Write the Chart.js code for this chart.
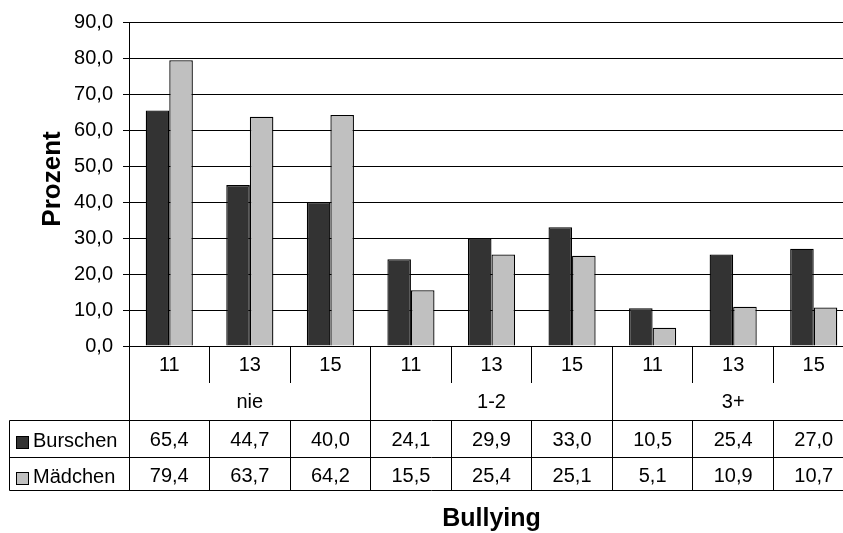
<!DOCTYPE html>
<html>
<head>
<meta charset="utf-8">
<script src="https://cdn.jsdelivr.net/npm/chart.js@4.4.1/dist/chart.umd.min.js"></script>
<style>
  html, body { margin: 0; padding: 0; background: #fff; overflow: hidden; }
  #wrap { width: 843px; height: 533px; overflow: hidden; }
</style>
</head>
<body>
<div id="wrap"><canvas id="bullyChart" width="870" height="533"></canvas></div>
<script>
// Data
const ages = ['11', '13', '15', '11', '13', '15', '11', '13', '15'];
const groups = ['nie', '1-2', '3+'];
const burschen = [65.4, 44.7, 40.0, 24.1, 29.9, 33.0, 10.5, 25.4, 27.0];
const maedchen = [79.4, 63.7, 64.2, 15.5, 25.4, 25.1, 5.1, 10.9, 10.7];
const seriesNames = ['Burschen', 'Mädchen'];
const seriesColors = ['#333333', '#c0c0c0'];
const yMin = 0, yMax = 90, yStep = 10;

const FONT = '"Liberation Sans", Arial, sans-serif';
const fmt = v => Number(v).toFixed(1).replace('.', ',');
const crisp = v => Math.round(v - 0.5) + 0.5;

// Draws the data table under the plot plus both axis titles
const tablePlugin = {
    id: 'dataTable',
    afterDraw(chart) {
        const ctx = chart.ctx;
        const xs = chart.scales.x;
        const area = chart.chartArea;
        const step = xs.getPixelForValue(1) - xs.getPixelForValue(0);
        const edge = i => crisp(xs.getPixelForValue(0) - step / 2 + i * step);
        const top = crisp(area.bottom);
        const rowA = 420.5, rowB = 457.5, rowC = 490.5;
        const tableLeft = 9.5;

        ctx.save();
        ctx.strokeStyle = '#000';
        ctx.lineWidth = 1;
        ctx.beginPath();
        // horizontal lines
        [rowA, rowB, rowC].forEach(y => {
            ctx.moveTo(tableLeft, y);
            ctx.lineTo(edge(ages.length), y);
        });
        // left borders
        ctx.moveTo(tableLeft, rowA);
        ctx.lineTo(tableLeft, rowC);
        ctx.moveTo(edge(0), top);
        ctx.lineTo(edge(0), rowC);
        // column separators
        for (let i = 1; i <= ages.length; i++) {
            const x = edge(i);
            if (i % 3 === 0) {
                ctx.moveTo(x, top);
                ctx.lineTo(x, rowC);
            } else {
                ctx.moveTo(x, top);
                ctx.lineTo(x, 383);
                ctx.moveTo(x, rowA);
                ctx.lineTo(x, rowC);
            }
        }
        ctx.stroke();

        // texts
        ctx.fillStyle = '#000';
        ctx.font = '20px ' + FONT;
        ctx.textAlign = 'center';
        ctx.textBaseline = 'alphabetic';
        ages.forEach((a, i) => {
            const cx = xs.getPixelForValue(i);
            ctx.fillText(a, cx, 371);
            ctx.fillText(fmt(burschen[i]), cx, 446);
            ctx.fillText(fmt(maedchen[i]), cx, 482);
        });
        groups.forEach((g, i) => {
            ctx.fillText(g, xs.getPixelForValue(i * 3 + 1), 408);
        });

        // legend keys in the table
        ctx.textAlign = 'left';
        [446, 482].forEach((base, k) => {
            ctx.fillStyle = seriesColors[k];
            ctx.fillRect(16, base - 10, 13, 13);
            ctx.strokeRect(16.5, base - 9.5, 12, 12);
            ctx.fillStyle = '#000';
            ctx.fillText(seriesNames[k], 33, base + 1);
        });

        // axis titles
        ctx.font = 'bold 25px ' + FONT;
        ctx.textAlign = 'center';
        ctx.fillText('Bullying', (area.left + area.right) / 2, 526);

        ctx.font = 'bold 26px ' + FONT;
        ctx.textBaseline = 'middle';
        ctx.translate(53, 179);
        ctx.rotate(-Math.PI / 2);
        ctx.fillText('Prozent', 0, 0);
        ctx.restore();
    }
};

const ctx = document.getElementById('bullyChart').getContext('2d');
const bullyChart = new Chart(ctx, {
    type: 'bar',
    data: {
        labels: ages,
        datasets: [
            { label: seriesNames[0], data: burschen, backgroundColor: seriesColors[0] },
            { label: seriesNames[1], data: maedchen, backgroundColor: seriesColors[1] }
        ]
    },
    options: {
        responsive: false,
        animation: false,
        layout: { padding: { top: 19, right: 16, bottom: 187, left: 0 } },
        datasets: {
            bar: {
                borderColor: '#000',
                borderWidth: 1.3,
                categoryPercentage: 0.585,
                barPercentage: 1
            }
        },
        plugins: {
            legend: { display: false },
            tooltip: { enabled: false }
        },
        scales: {
            x: { display: false },
            y: {
                min: yMin,
                max: yMax,
                afterFit: scale => { scale.width = 129; },
                ticks: {
                    stepSize: yStep,
                    color: '#000',
                    padding: 10,
                    font: { family: FONT, size: 20 },
                    callback: v => fmt(v)
                },
                grid: { color: '#000', tickLength: 6, tickColor: '#000' },
                border: { color: '#000', width: 1 }
            }
        }
    },
    plugins: [tablePlugin]
});
</script>
</body>
</html>
